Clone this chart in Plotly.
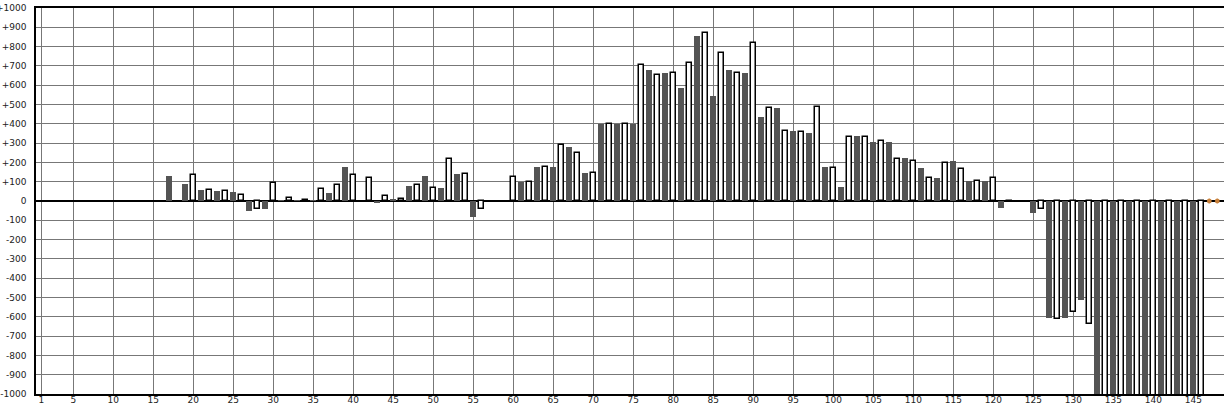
import plotly.graph_objects as go

# x positions 1..148 and values (None = no bar)
positions = list(range(1, 149))
values = [None] * 16 + [
    130, None, 89, 137, 58, 56, 53, 53, 47, 30,          # 17-26
    -51, -44, -40, 95, 5, 14, 5, 5, 5, 63,               # 27-36
    42, 84, 174, 137, None, 121, -7, 26, 10, 10,         # 37-46
    79, 84, 132, 68, 68, 216, 142, 142, -82, -44,        # 47-56
    None, None, None, 126, 100, 100, 174, 174, 174, 288, # 57-66
    279, 248, 143, 143, 400, 400, 400, 400, 400, 704,    # 67-76
    680, 652, 664, 663, 586, 715, 857, 868, 544, 767,    # 77-86
    680, 663, 664, 819, 435, 480, 482, 365, 362, 360,    # 87-96
    351, 485, 174, 172, 75, 334, 336, 334, 304, 313,     # 97-106
    304, 219, 221, 209, 169, 120, 120, 195, 205, 167,    # 107-116
    104, 104, 104, 120, -38, -7, None, None, -63, -42,   # 117-126
    -607, -612, -607, -575, -513, -638,                  # 127-132
    -1100, -1100, -1100, -1100, -1100, -1100, -1100,     # 133-139
    -1100, -1100, -1100, -1100, -1100, -1100, -1100,     # 140-146
    None, None,                                          # 147-148
]
marker_x = [147, 148]
marker_y = [0, 0]

x_ticks = [1] + list(range(5, 150, 5))
y_ticks = list(range(-1000, 1001, 100))
y_labels = [("+%d" % v if v > 0 else str(v)) for v in y_ticks]

dark_x = [p for p, v in zip(positions, values) if p % 2 == 1 and v is not None]
dark_y = [v for p, v in zip(positions, values) if p % 2 == 1 and v is not None]
white_x = [p for p, v in zip(positions, values) if p % 2 == 0 and v is not None]
white_y = [v for p, v in zip(positions, values) if p % 2 == 0 and v is not None]

fig = go.Figure()
fig.add_trace(go.Bar(x=dark_x, y=dark_y, width=0.75,
                     marker=dict(color="#545454", line=dict(width=0)),
                     showlegend=False))
fig.add_trace(go.Bar(x=white_x, y=white_y, width=0.66,
                     marker=dict(color="#ffffff", line=dict(color="#000000", width=1.5)),
                     showlegend=False))
fig.add_trace(go.Scatter(x=marker_x, y=marker_y, mode="markers",
                         marker=dict(symbol="asterisk-open", size=4, color="#c8803a",
                                     line=dict(color="#c8803a", width=1.5)),
                         showlegend=False, cliponaxis=False))

fig.update_layout(
    width=1224, height=404,
    margin=dict(l=36, r=0, t=8, b=10, autoexpand=False),
    paper_bgcolor="white", plot_bgcolor="white",
    barmode="overlay", bargap=0,
    font=dict(family="DejaVu Sans", size=9, color="#222222"),
    xaxis=dict(range=[0.34, 148.84], tickmode="array", tickvals=x_ticks,
               ticktext=[str(t) for t in x_ticks],
               showgrid=True, gridcolor="#777777", gridwidth=1,
               showline=True, linecolor="#000000", linewidth=1.5, mirror=True,
               ticks="", zeroline=False, automargin=False,
               ticklabelstandoff=-4),
    yaxis=dict(range=[-1000, 1000], tickmode="array", tickvals=y_ticks,
               ticktext=y_labels,
               showgrid=True, gridcolor="#777777", gridwidth=1,
               showline=True, linecolor="#000000", linewidth=1.5,
               zeroline=True, zerolinecolor="#000000", zerolinewidth=1.5,
               ticks="", ticklabelstandoff=6, automargin=False),
)

fig.write_html("out.html", config={"displayModeBar": False},
               post_script="document.body.style.margin='0';document.body.style.overflow='hidden';")
